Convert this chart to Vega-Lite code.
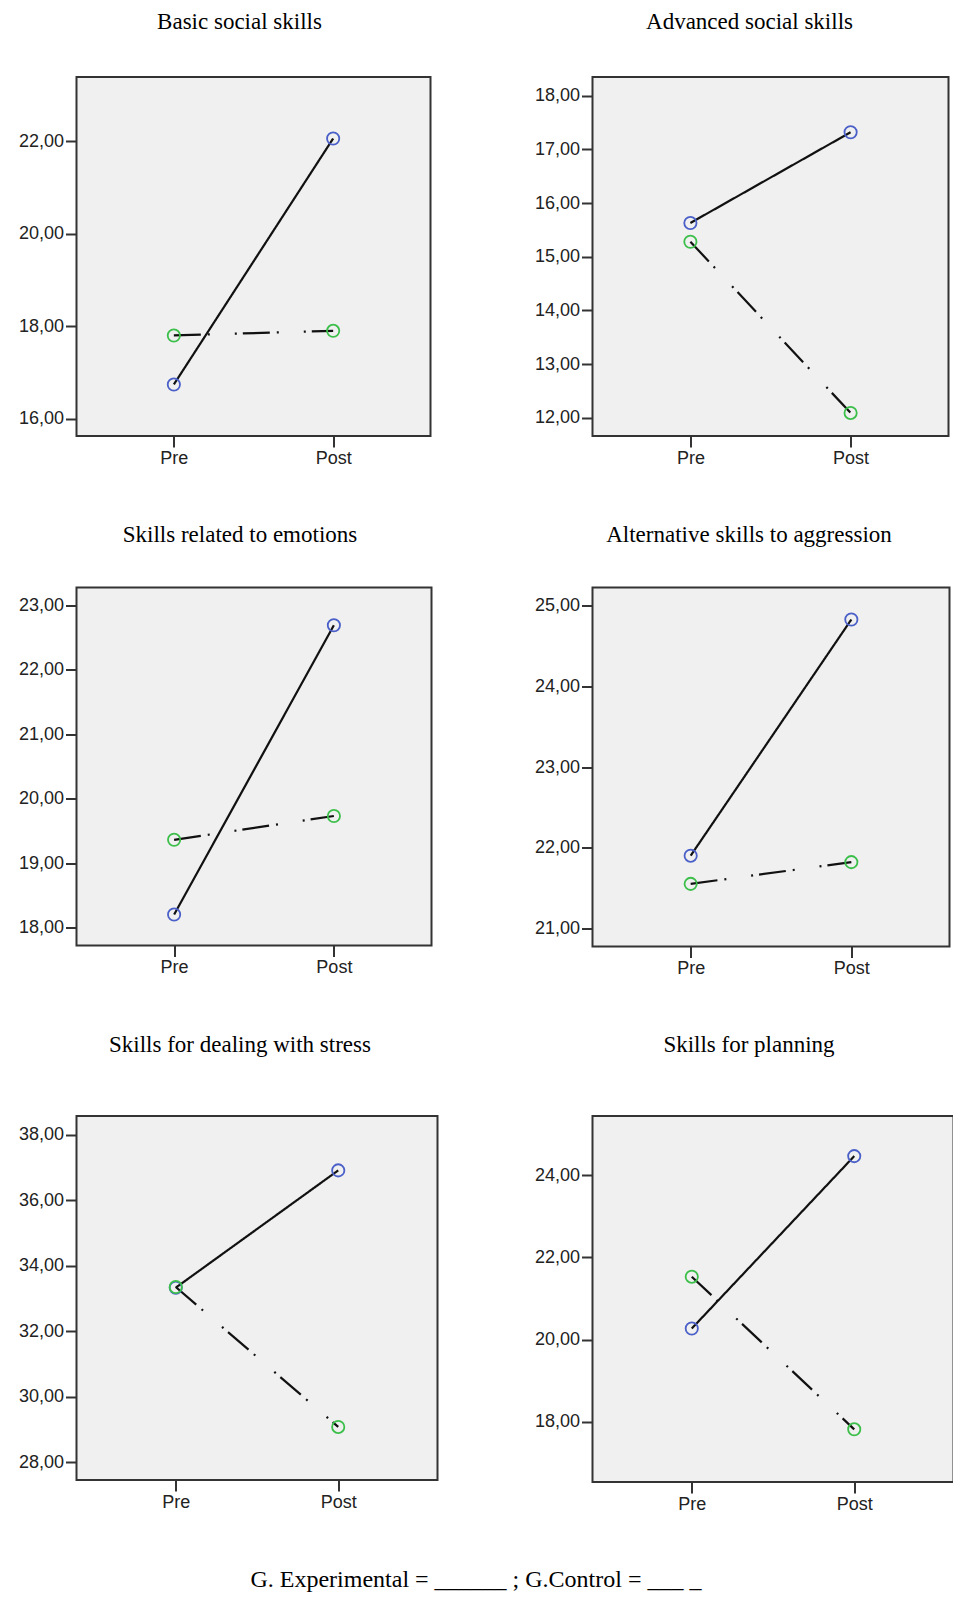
{
  "$schema": "https://vega.github.io/schema/vega-lite/v6.json",
  "autosize": {"type": "pad"},
  "padding": {"left": 16.5, "top": 10, "right": 0, "bottom": 5},
  "background": "white",
  "data": {"values": [
    {"panel": "Basic social skills", "time": "Pre", "group": "Experimental", "value": 16.74},
    {"panel": "Basic social skills", "time": "Post", "group": "Experimental", "value": 22.06},
    {"panel": "Basic social skills", "time": "Pre", "group": "Control", "value": 17.80},
    {"panel": "Basic social skills", "time": "Post", "group": "Control", "value": 17.90},
    {"panel": "Advanced social skills", "time": "Pre", "group": "Experimental", "value": 15.63},
    {"panel": "Advanced social skills", "time": "Post", "group": "Experimental", "value": 17.32},
    {"panel": "Advanced social skills", "time": "Pre", "group": "Control", "value": 15.28},
    {"panel": "Advanced social skills", "time": "Post", "group": "Control", "value": 12.09},
    {"panel": "Skills related to emotions", "time": "Pre", "group": "Experimental", "value": 18.20},
    {"panel": "Skills related to emotions", "time": "Post", "group": "Experimental", "value": 22.69},
    {"panel": "Skills related to emotions", "time": "Pre", "group": "Control", "value": 19.36},
    {"panel": "Skills related to emotions", "time": "Post", "group": "Control", "value": 19.73},
    {"panel": "Alternative skills to aggression", "time": "Pre", "group": "Experimental", "value": 21.90},
    {"panel": "Alternative skills to aggression", "time": "Post", "group": "Experimental", "value": 24.83},
    {"panel": "Alternative skills to aggression", "time": "Pre", "group": "Control", "value": 21.55},
    {"panel": "Alternative skills to aggression", "time": "Post", "group": "Control", "value": 21.82},
    {"panel": "Skills for dealing with stress", "time": "Pre", "group": "Experimental", "value": 33.33},
    {"panel": "Skills for dealing with stress", "time": "Post", "group": "Experimental", "value": 36.91},
    {"panel": "Skills for dealing with stress", "time": "Pre", "group": "Control", "value": 33.35},
    {"panel": "Skills for dealing with stress", "time": "Post", "group": "Control", "value": 29.08},
    {"panel": "Skills for planning", "time": "Pre", "group": "Experimental", "value": 20.27},
    {"panel": "Skills for planning", "time": "Post", "group": "Experimental", "value": 24.46},
    {"panel": "Skills for planning", "time": "Pre", "group": "Control", "value": 21.53},
    {"panel": "Skills for planning", "time": "Post", "group": "Control", "value": 17.82}
  ]},
  "title": {
    "text": "G. Experimental = ______ ; G.Control =  ___ _",
    "orient": "bottom",
    "anchor": "middle",
    "offset": 54,
    "dx": -10,
    "fontSize": 24,
    "font": "Liberation Serif",
    "fontWeight": "normal",
    "color": "#000000"
  },
  "columns": 2,
  "align": "each",
  "bounds": "full",
  "spacing": {"row": 54.5, "column": 94},
  "resolve": {"scale": {"y": "independent", "x": "independent"}},
  "concat": [
    {
      "title": {"text": "Basic social skills", "offset": 43, "dx": -14},
      "width": 354, "height": 359,
      "transform": [{"filter": "datum.panel === 'Basic social skills'"}],
      "encoding": {
        "x": {"field": "time", "type": "nominal", "sort": ["Pre", "Post"], "scale": {"type": "point", "padding": 0.611, "domain": ["Pre", "Post"]}, "axis": {"title": null, "labelAngle": 0}},
        "y": {"field": "value", "type": "quantitative", "scale": {"domain": [15.625, 23.39], "nice": false, "zero": false}, "axis": {"title": null, "values": [16, 18, 20, 22], "labelExpr": "replace(format(datum.value, '.2f'), '.', ',')"}}
      },
      "layer": [
        {"mark": {"type": "line", "color": "#111111", "strokeWidth": 2.2}, "encoding": {"strokeDash": {"field": "group", "type": "nominal", "scale": {"domain": ["Experimental", "Control"], "range": [[1, 0], [27, 7, 2, 25, 2, 6]]}, "legend": null}}},
        {"mark": {"type": "point", "shape": "circle", "filled": false, "size": 150, "strokeWidth": 1.8, "opacity": 1}, "encoding": {"color": {"field": "group", "type": "nominal", "scale": {"domain": ["Experimental", "Control"], "range": ["#4a5fc8", "#3cbf4a"]}, "legend": null}}}
      ]
    },
    {
      "title": {"text": "Advanced social skills", "offset": 43, "dx": -21},
      "width": 356, "height": 359,
      "transform": [{"filter": "datum.panel === 'Advanced social skills'"}],
      "encoding": {
        "x": {"field": "time", "type": "nominal", "sort": ["Pre", "Post"], "scale": {"type": "point", "padding": 0.611, "domain": ["Pre", "Post"]}, "axis": {"title": null, "labelAngle": 0}},
        "y": {"field": "value", "type": "quantitative", "scale": {"domain": [11.66, 18.35], "nice": false, "zero": false}, "axis": {"title": null, "values": [12, 13, 14, 15, 16, 17, 18], "labelExpr": "replace(format(datum.value, '.2f'), '.', ',')"}}
      },
      "layer": [
        {"mark": {"type": "line", "color": "#111111", "strokeWidth": 2.2}, "encoding": {"strokeDash": {"field": "group", "type": "nominal", "scale": {"domain": ["Experimental", "Control"], "range": [[1, 0], [27, 7, 2, 25, 2, 6]]}, "legend": null}}},
        {"mark": {"type": "point", "shape": "circle", "filled": false, "size": 150, "strokeWidth": 1.8, "opacity": 1}, "encoding": {"color": {"field": "group", "type": "nominal", "scale": {"domain": ["Experimental", "Control"], "range": ["#4a5fc8", "#3cbf4a"]}, "legend": null}}}
      ]
    },
    {
      "title": {"text": "Skills related to emotions", "offset": 41, "dx": -14},
      "width": 355, "height": 358,
      "transform": [{"filter": "datum.panel === 'Skills related to emotions'"}],
      "encoding": {
        "x": {"field": "time", "type": "nominal", "sort": ["Pre", "Post"], "scale": {"type": "point", "padding": 0.611, "domain": ["Pre", "Post"]}, "axis": {"title": null, "labelAngle": 0}},
        "y": {"field": "value", "type": "quantitative", "scale": {"domain": [17.72, 23.275], "nice": false, "zero": false}, "axis": {"title": null, "values": [18, 19, 20, 21, 22, 23], "labelExpr": "replace(format(datum.value, '.2f'), '.', ',')"}}
      },
      "layer": [
        {"mark": {"type": "line", "color": "#111111", "strokeWidth": 2.2}, "encoding": {"strokeDash": {"field": "group", "type": "nominal", "scale": {"domain": ["Experimental", "Control"], "range": [[1, 0], [27, 7, 2, 25, 2, 6]]}, "legend": null}}},
        {"mark": {"type": "point", "shape": "circle", "filled": false, "size": 150, "strokeWidth": 1.8, "opacity": 1}, "encoding": {"color": {"field": "group", "type": "nominal", "scale": {"domain": ["Experimental", "Control"], "range": ["#4a5fc8", "#3cbf4a"]}, "legend": null}}}
      ]
    },
    {
      "title": {"text": "Alternative skills to aggression", "offset": 41, "dx": -22},
      "width": 357, "height": 359,
      "transform": [{"filter": "datum.panel === 'Alternative skills to aggression'"}],
      "encoding": {
        "x": {"field": "time", "type": "nominal", "sort": ["Pre", "Post"], "scale": {"type": "point", "padding": 0.611, "domain": ["Pre", "Post"]}, "axis": {"title": null, "labelAngle": 0}},
        "y": {"field": "value", "type": "quantitative", "scale": {"domain": [20.773, 25.227], "nice": false, "zero": false}, "axis": {"title": null, "values": [21, 22, 23, 24, 25], "labelExpr": "replace(format(datum.value, '.2f'), '.', ',')"}}
      },
      "layer": [
        {"mark": {"type": "line", "color": "#111111", "strokeWidth": 2.2}, "encoding": {"strokeDash": {"field": "group", "type": "nominal", "scale": {"domain": ["Experimental", "Control"], "range": [[1, 0], [27, 7, 2, 25, 2, 6]]}, "legend": null}}},
        {"mark": {"type": "point", "shape": "circle", "filled": false, "size": 150, "strokeWidth": 1.8, "opacity": 1}, "encoding": {"color": {"field": "group", "type": "nominal", "scale": {"domain": ["Experimental", "Control"], "range": ["#4a5fc8", "#3cbf4a"]}, "legend": null}}}
      ]
    },
    {
      "title": {"text": "Skills for dealing with stress", "offset": 59, "dx": -17},
      "width": 361, "height": 364,
      "transform": [{"filter": "datum.panel === 'Skills for dealing with stress'"}],
      "encoding": {
        "x": {"field": "time", "type": "nominal", "sort": ["Pre", "Post"], "scale": {"type": "point", "padding": 0.611, "domain": ["Pre", "Post"]}, "axis": {"title": null, "labelAngle": 0}},
        "y": {"field": "value", "type": "quantitative", "scale": {"domain": [27.46, 38.57], "nice": false, "zero": false}, "axis": {"title": null, "values": [28, 30, 32, 34, 36, 38], "labelExpr": "replace(format(datum.value, '.2f'), '.', ',')"}}
      },
      "layer": [
        {"mark": {"type": "line", "color": "#111111", "strokeWidth": 2.2}, "encoding": {"strokeDash": {"field": "group", "type": "nominal", "scale": {"domain": ["Experimental", "Control"], "range": [[1, 0], [27, 7, 2, 25, 2, 6]]}, "legend": null}}},
        {"mark": {"type": "point", "shape": "circle", "filled": false, "size": 150, "strokeWidth": 1.8, "opacity": 1}, "encoding": {"color": {"field": "group", "type": "nominal", "scale": {"domain": ["Experimental", "Control"], "range": ["#4a5fc8", "#3cbf4a"]}, "legend": null}}}
      ]
    },
    {
      "title": {"text": "Skills for planning", "offset": 59, "dx": -24},
      "width": 361, "height": 366,
      "transform": [{"filter": "datum.panel === 'Skills for planning'"}],
      "encoding": {
        "x": {"field": "time", "type": "nominal", "sort": ["Pre", "Post"], "scale": {"type": "point", "padding": 0.611, "domain": ["Pre", "Post"]}, "axis": {"title": null, "labelAngle": 0}},
        "y": {"field": "value", "type": "quantitative", "scale": {"domain": [16.54, 25.435], "nice": false, "zero": false}, "axis": {"title": null, "values": [18, 20, 22, 24], "labelExpr": "replace(format(datum.value, '.2f'), '.', ',')"}}
      },
      "layer": [
        {"mark": {"type": "line", "color": "#111111", "strokeWidth": 2.2}, "encoding": {"strokeDash": {"field": "group", "type": "nominal", "scale": {"domain": ["Experimental", "Control"], "range": [[1, 0], [27, 7, 2, 25, 2, 6]]}, "legend": null}}},
        {"mark": {"type": "point", "shape": "circle", "filled": false, "size": 150, "strokeWidth": 1.8, "opacity": 1}, "encoding": {"color": {"field": "group", "type": "nominal", "scale": {"domain": ["Experimental", "Control"], "range": ["#4a5fc8", "#3cbf4a"]}, "legend": null}}}
      ]
    }
  ],
  "config": {
    "view": {"fill": "#f0f0f0", "stroke": "#333333", "strokeWidth": 2},
    "axis": {
      "domain": false,
      "grid": false,
      "labelFont": "Liberation Sans",
      "labelFontSize": 18,
      "labelColor": "#222222",
      "tickColor": "#333333",
      "tickWidth": 2,
      "tickSize": 11,
      "labelPadding": 2
    },
    "title": {
      "font": "Liberation Serif",
      "fontSize": 23,
      "fontWeight": "normal",
      "color": "#000000",
      "anchor": "middle"
    }
  }
}
